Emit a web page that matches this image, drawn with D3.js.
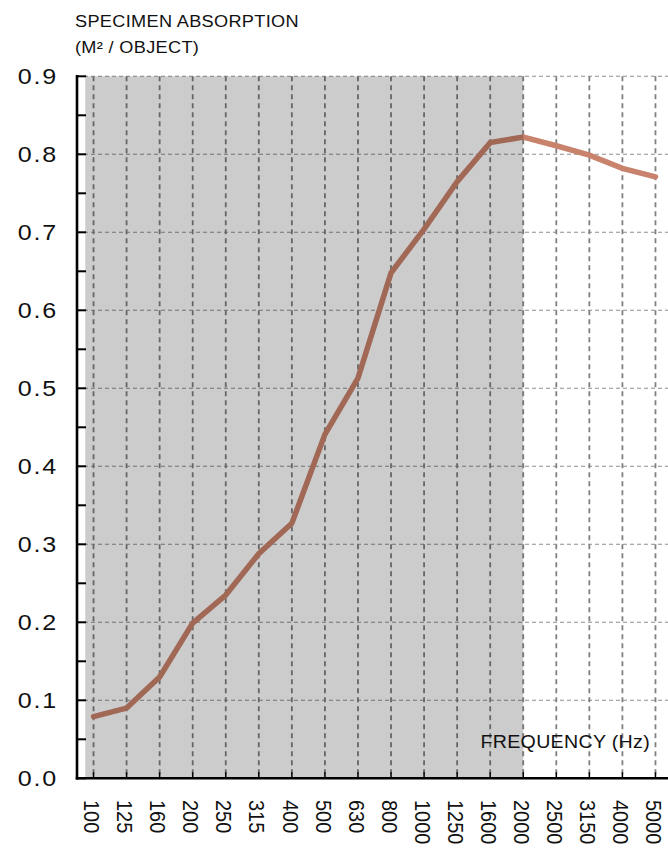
<!DOCTYPE html>
<html>
<head>
<meta charset="utf-8">
<script src="https://cdn.jsdelivr.net/npm/d3@7"></script>
<style>
  html, body { margin: 0; padding: 0; background: #fff; }
  svg { display: block; font-family: "Liberation Sans", Arial, Helvetica, sans-serif; }
</style>
</head>
<body>
<svg id="chart" width="668" height="859"></svg>
<script>
// ---- data ----
const frequencies = ["100","125","160","200","250","315","400","500","630","800","1000","1250","1600","2000","2500","3150","4000","5000"];
const absorption  = [0.079, 0.090, 0.130, 0.199, 0.235, 0.288, 0.327, 0.441, 0.513, 0.648, 0.704, 0.765, 0.815, 0.822, 0.811, 0.799, 0.782, 0.771];
const yTicks = [0.0, 0.1, 0.2, 0.3, 0.4, 0.5, 0.6, 0.7, 0.8, 0.9];
const yMinorTicks = [0.05, 0.15, 0.25, 0.35, 0.45, 0.55, 0.65, 0.75, 0.85];
const shadedUntil = "2000";
const titleLines = ["SPECIMEN ABSORPTION", "(M\u00B2 / OBJECT)"];
const xTitle = "FREQUENCY (Hz)";

// ---- layout ----
const W = 668, H = 859;
const mLeft = 77, mRight = 672, mTop = 76.3, mBottom = 778.3;

const svg = d3.select("#chart");

const x = d3.scalePoint().domain(frequencies).range([mLeft, mRight]).padding(0.5);
const y = d3.scaleLinear().domain([0, 0.9]).range([mBottom, mTop]);

// horizontal gridlines
svg.append("g").selectAll("line").data(yTicks.filter(d => d > 0)).join("line")
  .attr("x1", mLeft).attr("x2", W)
  .attr("y1", d => y(d)).attr("y2", d => y(d))
  .attr("stroke", "#8f8f8f").attr("stroke-width", 1.1)
  .attr("stroke-dasharray", "4,3");

// vertical gridlines
svg.append("g").selectAll("line").data(frequencies).join("line")
  .attr("x1", d => x(d)).attr("x2", d => x(d))
  .attr("y1", mTop).attr("y2", mBottom)
  .attr("stroke", "#808080").attr("stroke-width", 1.8)
  .attr("stroke-dasharray", "5,4");

// data line
const line = d3.line().x((d, i) => x(frequencies[i])).y(d => y(d));
svg.append("path").datum(absorption)
  .attr("d", line)
  .attr("fill", "none")
  .attr("stroke", "#c9826b")
  .attr("stroke-width", 5.5)
  .attr("stroke-linecap", "round")
  .attr("stroke-linejoin", "miter");

// shaded overlay (drawn on top)
const x0 = x(frequencies[0]) - x.step() / 4;
svg.append("rect")
  .attr("x", x0).attr("y", mTop)
  .attr("width", x(shadedUntil) - x0).attr("height", mBottom - mTop)
  .attr("fill", "#000").attr("fill-opacity", 0.2);

// y axis
const yAxis = svg.append("g");
yAxis.append("line").attr("x1", mLeft).attr("x2", mLeft).attr("y1", mTop - 1.3).attr("y2", mBottom + 1.3)
  .attr("stroke", "#000").attr("stroke-width", 2.6);
yAxis.selectAll("line.tick").data(yTicks.concat(yMinorTicks)).join("line").attr("class", "tick")
  .attr("x1", mLeft).attr("x2", mLeft + 9)
  .attr("y1", d => y(d)).attr("y2", d => y(d))
  .attr("stroke", "#000").attr("stroke-width", 2);
yAxis.selectAll("text").data(yTicks).join("text")
  .attr("transform", d => `translate(58,${y(d)}) scale(1.14,1)`)
  .attr("text-anchor", "end")
  .attr("dy", "0.36em")
  .attr("font-size", 22)
  .attr("letter-spacing", 1.6)
  .attr("fill", "#111")
  .text(d => d.toFixed(1));

// x axis
const xAxis = svg.append("g");
xAxis.append("line").attr("x1", mLeft - 1.3).attr("x2", W).attr("y1", mBottom).attr("y2", mBottom)
  .attr("stroke", "#000").attr("stroke-width", 2.6);
xAxis.selectAll("line.tick").data(frequencies).join("line").attr("class", "tick")
  .attr("x1", d => x(d)).attr("x2", d => x(d))
  .attr("y1", mBottom).attr("y2", mBottom - 6)
  .attr("stroke", "#000").attr("stroke-width", 1.5);
xAxis.selectAll("text").data(frequencies).join("text")
  .attr("transform", d => `translate(${x(d) - 1.5},800) scale(1.12,1) rotate(90)`)
  .attr("text-anchor", "start")
  .attr("dy", "0.35em")
  .attr("font-size", 20)
  .attr("fill", "#111")
  .text(d => d);

// axis titles
svg.append("g").selectAll("text").data(titleLines).join("text")
  .attr("transform", (d, i) => `translate(75,${27 + i * 25.5}) scale(1.1,1)`)
  .attr("font-size", 16.5)
  .attr("letter-spacing", 0.3)
  .attr("fill", "#111")
  .text(d => d);

svg.append("text")
  .attr("transform", "translate(650,748) scale(1.06,1)")
  .attr("text-anchor", "end")
  .attr("font-size", 18.5)
  .attr("letter-spacing", 0.3)
  .attr("fill", "#111")
  .text(xTitle);
</script>
</body>
</html>
